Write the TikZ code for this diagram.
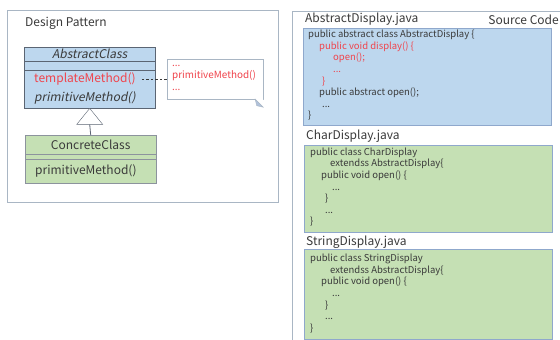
\documentclass[tikz,border=0pt]{standalone}
\usepackage{fontspec}
\setmainfont{Noto Sans CJK JP}[AutoFakeSlant=0.2]
\usetikzlibrary{arrows.meta, positioning}
\definecolor{clsblue}{HTML}{BDD7EE}
\definecolor{clsgreen}{HTML}{C5E0B4}
\definecolor{clsline}{HTML}{5B6573}
\definecolor{codeline}{HTML}{8FA8CC}
\definecolor{framegray}{HTML}{A9B6C4}
\definecolor{hotred}{HTML}{F0444C}
\definecolor{codegray}{HTML}{3A3A3A}

\begin{document}
\begin{tikzpicture}[x=1pt, y=-1pt,
    every node/.style={font=\fontsize{12}{14}\selectfont, text=codegray},
    frame/.style={draw=framegray, semithick, fill=white},
    compart/.style={rectangle, draw=clsline, inner sep=0pt, anchor=north west, minimum width=131pt},
    meth/.style={anchor=west, inner sep=0pt, font=\fontsize{12}{14}\selectfont},
    note/.style={rectangle, draw=framegray, fill=white, minimum width=96pt, minimum height=40pt, inner sep=0pt},
    codebox/.style={rectangle, draw=codeline, anchor=north west, inner sep=0pt, minimum width=248pt},
    code/.style={anchor=north west, inner sep=0pt, align=left, font=\fontsize{9.5}{11.6}\selectfont},
    filelabel/.style={anchor=west, inner sep=0pt, font=\fontsize{12}{14}\selectfont},
    dashline/.style={draw=codegray, dash pattern=on 2.5pt off 2pt},
    inherit/.style={draw=clsline, thick}
]
\useasboundingbox (0,0) rectangle (560,340);

% --- Design pattern side ---
\draw[frame] (7,10) rectangle (278,202);
\node[anchor=west, inner sep=0pt] (dptitle) at (25,23) {Design Pattern};

\node[compart, fill=clsblue, minimum height=14pt] (absname) at (24,47) {\itshape AbstractClass};
\node[compart, fill=clsblue, minimum height=9pt] (absattr) at (24,61) {};
\node[compart, fill=clsblue, minimum height=38pt] (absops) at (24,70) {};
\node[meth, text=hotred] (tmpl) at (34,79) {templateMethod()};
\node[meth] (absprim) at (34,98) {\itshape primitiveMethod()};

\node[compart, fill=clsgreen, draw=clsline!70, minimum height=19pt, font=\fontsize{12}{14}\selectfont] (concname) at (25,135) {ConcreteClass};
\node[compart, fill=clsgreen, draw=clsline!70, minimum height=5pt] (concattr) at (25,154) {};
\node[compart, fill=clsgreen, draw=clsline!70, minimum height=24pt] (concops) at (25,159) {};
\node[meth] (concprim) at (35,171) {primitiveMethod()};

% generalisation: line and open triangle
\coordinate (tribase) at ([yshift=-16pt]absops.south);
\draw[inherit] (concname.north) -- (tribase);
\draw[clsline, fill=white] (absops.south) -- ([xshift=-13pt]tribase) -- ([xshift=13pt]tribase) -- cycle;

\node[note] (tmplnote) at (215,79) {};
\node[anchor=north west, inner sep=0pt, align=left, text=hotred, font=\fontsize{9.9}{11.5}\selectfont] (notetext) at (172,58) {\strut...\\primitiveMethod()\\...};
\fill[white] ([xshift=-8pt]tmplnote.south east) -- (tmplnote.south east) -- ([yshift=-8pt]tmplnote.south east) -- cycle;
\filldraw[fill=codeline!70, draw=framegray] ([xshift=-8pt]tmplnote.south east) -- ([yshift=-8pt]tmplnote.south east) -- ([xshift=-6.5pt, yshift=-6.5pt]tmplnote.south east) -- cycle;
\draw[dashline] ([xshift=6pt]tmpl.east) -- (tmplnote.west);

% --- Source code side ---
\draw[frame] (292,11) rectangle (566,346);
\node[anchor=east, inner sep=0pt] (srctitle) at (559,20) {Source Code};

\node[filelabel] (absfile) at (305,19) {AbstractDisplay.java};
\node[codebox, fill=clsblue, minimum height=97pt] (absbox) at (303,28) {};
\node[code] (abscode) at (308,30) {%
public abstract class AbstractDisplay \{\\
\hspace*{11pt}\textcolor{hotred}{public void display() \{}\\
\hspace*{25pt}\textcolor{hotred}{open();}\\
\hspace*{25pt}\textcolor{hotred}{...}\\
\hspace*{14pt}\textcolor{hotred}{\}}\\
\hspace*{11pt}public abstract open();\\
\hspace*{14pt}...\\
\}};

\node[filelabel] (charfile) at (306,136) {CharDisplay.java};
\node[codebox, fill=clsgreen, minimum height=87pt] (charbox) at (304,145) {};
\node[code] (charcode) at (310,147.5) {%
public class CharDisplay\\
\hspace*{20pt}extendss AbstractDisplay\{\\
\hspace*{11pt}public void open() \{\\
\hspace*{22pt}...\\
\hspace*{15pt}\}\\
\hspace*{15pt}...\\
\}};

\node[filelabel] (strfile) at (306,242) {StringDisplay.java};
\node[codebox, fill=clsgreen, minimum height=90pt] (strbox) at (304,249) {};
\node[code] (strcode) at (310,254) {%
public class StringDisplay\\
\hspace*{20pt}extendss AbstractDisplay\{\\
\hspace*{11pt}public void open() \{\\
\hspace*{22pt}...\\
\hspace*{15pt}\}\\
\hspace*{15pt}...\\
\}};
\end{tikzpicture}
\end{document}
